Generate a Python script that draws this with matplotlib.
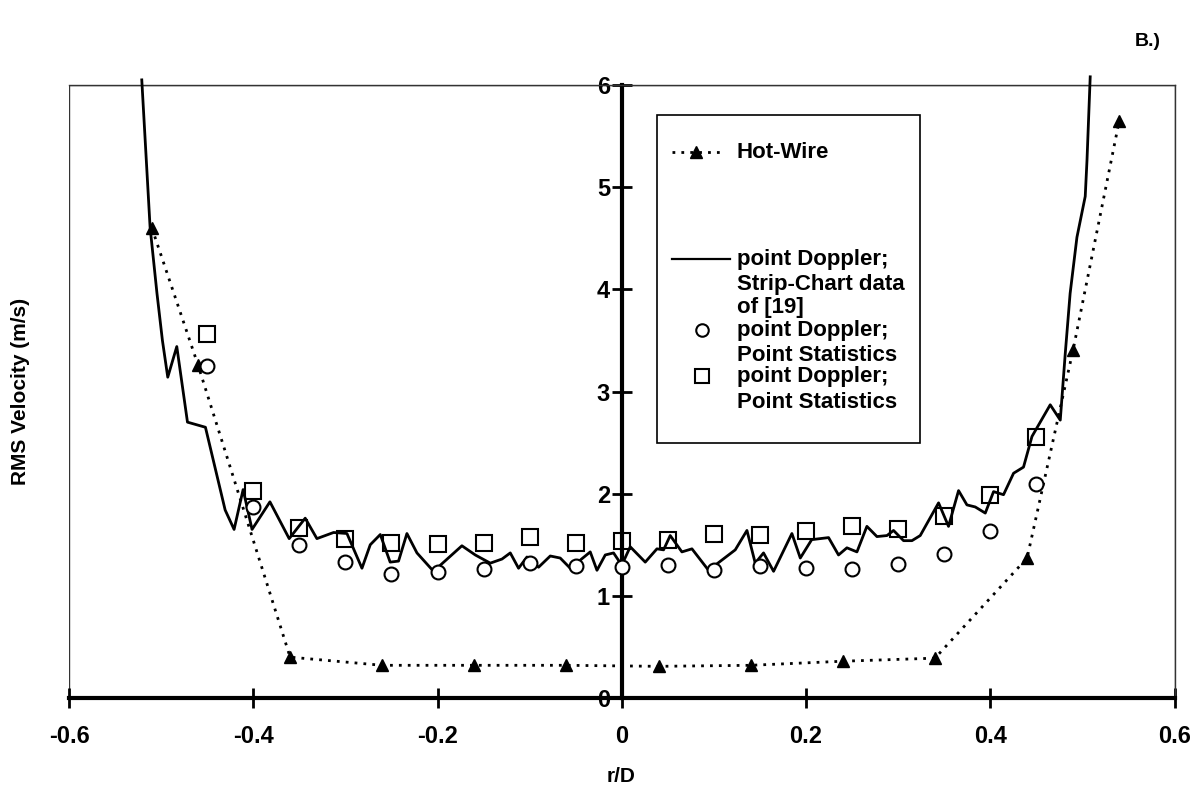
import matplotlib
matplotlib.use("Agg")
import matplotlib.pyplot as plt
from matplotlib.patches import Rectangle
from matplotlib.lines import Line2D

plt.rcParams['font.family'] = ['Liberation Sans', 'DejaVu Sans']
plt.rcParams['font.weight'] = 'bold'

# ---- data ----
hw_x = [-0.51, -0.46, -0.36, -0.26, -0.16, -0.06, 0.04, 0.14, 0.24, 0.34, 0.44, 0.49, 0.54]
hw_y = [4.60, 3.26, 0.40, 0.32, 0.32, 0.32, 0.31, 0.32, 0.36, 0.39, 1.37, 3.41, 5.65]

pt_x = [-0.45, -0.40, -0.35, -0.30, -0.25, -0.20, -0.15, -0.10, -0.05, 0.00,
        0.05, 0.10, 0.15, 0.20, 0.25, 0.30, 0.35, 0.40, 0.45]
circ_y = [3.25, 1.87, 1.50, 1.33, 1.21, 1.23, 1.26, 1.32, 1.29, 1.28,
          1.30, 1.25, 1.29, 1.27, 1.26, 1.31, 1.41, 1.63, 2.09]
sq_y = [3.56, 2.03, 1.66, 1.56, 1.52, 1.51, 1.52, 1.58, 1.52, 1.54,
        1.55, 1.61, 1.60, 1.63, 1.68, 1.65, 1.78, 1.99, 2.55]

strip_x = [-0.521, -0.512, -0.5045, -0.4986, -0.4928, -0.483, -0.4714, -0.4519, -0.4305, -0.4208,
           -0.411, -0.4013, -0.3819, -0.361, -0.3436, -0.3309, -0.3128, -0.2983, -0.282, -0.273,
           -0.2621, -0.2514, -0.2423, -0.2332, -0.2223, -0.2043, -0.1735, -0.159, -0.1427, -0.130,
           -0.121, -0.112, -0.1029, -0.0903, -0.0776, -0.0668, -0.0559, -0.045, -0.0342, -0.0269,
           -0.0179, -0.0089, 0.0, 0.0092, 0.0255, 0.0382, 0.0454, 0.0526, 0.0653, 0.0762,
           0.0942, 0.1232, 0.1359, 0.1449, 0.1539, 0.1648, 0.1847, 0.1938, 0.2062, 0.2245,
           0.2353, 0.2444, 0.2553, 0.2661, 0.277, 0.2879, 0.295, 0.3059, 0.315, 0.324,
           0.3439, 0.3547, 0.3656, 0.3747, 0.3837, 0.3946, 0.4036, 0.4144, 0.4253, 0.4361,
           0.4453, 0.4651, 0.476, 0.4814, 0.4867, 0.4941, 0.5031, 0.505, 0.5085]
strip_y = [6.05, 4.61, 3.96, 3.50, 3.14, 3.44, 2.70, 2.65, 1.84, 1.65,
           2.04, 1.65, 1.92, 1.56, 1.76, 1.56, 1.62, 1.61, 1.27, 1.50,
           1.60, 1.33, 1.34, 1.61, 1.42, 1.24, 1.49, 1.40, 1.32, 1.36,
           1.42, 1.27, 1.38, 1.28, 1.39, 1.37, 1.27, 1.35, 1.43, 1.25,
           1.40, 1.42, 1.30, 1.48, 1.33, 1.46, 1.45, 1.59, 1.43, 1.46,
           1.25, 1.45, 1.64, 1.32, 1.42, 1.24, 1.61, 1.37, 1.55, 1.57,
           1.40, 1.47, 1.43, 1.68, 1.58, 1.59, 1.64, 1.54, 1.54, 1.59,
           1.91, 1.68, 2.03, 1.89, 1.87, 1.81, 2.02, 1.99, 2.20, 2.26,
           2.56, 2.87, 2.72, 3.37, 3.96, 4.51, 4.91, 5.26, 6.08]

x_ticks = [-0.6, -0.4, -0.2, 0, 0.2, 0.4, 0.6]
x_ticklabels = ['-0.6', '-0.4', '-0.2', '0', '0.2', '0.4', '0.6']
y_ticks = [0, 1, 2, 3, 4, 5, 6]

# ---- figure ----
fig = plt.figure(figsize=(11.94, 7.88), dpi=100)
ax = fig.add_axes([69/1194, 1-698/788, (1174.5-69)/1194, (698-85)/788])
ax.set_xlim(-0.6, 0.6)
ax.set_ylim(0, 6)

# thin frame
for s in ['top', 'right']:
    ax.spines[s].set_linewidth(1.0)
    ax.spines[s].set_color('#333333')
ax.add_patch(Rectangle((0, 0), 1, 1, transform=ax.transAxes, fill=False,
                       lw=1.0, edgecolor='#333333', zorder=0))
ax.spines['left'].set_position(('data', 0))
ax.spines['left'].set_linewidth(3)
ax.spines['bottom'].set_linewidth(3)
ax.spines['left'].set_zorder(1)

ax.set_xticks(x_ticks)
ax.set_xticklabels(x_ticklabels)
ax.set_yticks(y_ticks)
ax.tick_params(axis='both', direction='inout', length=15, width=2, labelsize=17)
ax.tick_params(axis='x', pad=12)
ax.tick_params(axis='y', pad=1)
for lab in ax.get_xticklabels() + ax.get_yticklabels():
    lab.set_fontweight('bold')

fig.text(621/1194, 1-776/788, 'r/D', fontsize=15, fontweight='bold', ha='center', va='center')
fig.text(21/1194, 1-391/788, 'RMS Velocity (m/s)', rotation=90, fontsize=15,
         fontweight='bold', ha='center', va='center')

# data
ax.plot(strip_x, strip_y, color='black', lw=2, zorder=3, clip_on=False)
ax.plot(hw_x, hw_y, color='black', lw=2, linestyle=(0, (1, 2.2)), marker='^',
        markersize=8, markerfacecolor='black', zorder=4)
ax.plot(pt_x, circ_y, linestyle='none', marker='o', markersize=10,
        markerfacecolor='white', markeredgecolor='black', markeredgewidth=1.5, zorder=5)
ax.plot(pt_x, sq_y, linestyle='none', marker='s', markersize=12,
        markerfacecolor='none', markeredgecolor='black', markeredgewidth=1.5, zorder=5)

# legend (manual, axes coordinates)
T = ax.transAxes
def fx(px):
    return (px - 69) / 1105.5
def fy(py):
    return (698 - py) / 613.0

LFS = 16
ax.add_patch(Rectangle((fx(657), fy(443)), fx(920) - fx(657), fy(115) - fy(443),
                       transform=T, facecolor='white', edgecolor='black', lw=1.2, zorder=6))
ax.add_line(Line2D([fx(672), fx(720)], [fy(152), fy(152)], transform=T, color='black', lw=2,
                   linestyle=(0, (1, 2.2)), zorder=7))
ax.add_line(Line2D([fx(696)], [fy(152)], transform=T, marker='^', markersize=8,
                   color='black', zorder=7))
ax.text(fx(737), fy(152), 'Hot-Wire', transform=T, fontsize=LFS, fontweight='bold',
        va='center', ha='left', zorder=7)
ax.add_line(Line2D([fx(672), fx(730)], [fy(259), fy(259)], transform=T, color='black', lw=1.6,
                   zorder=7))
ax.text(fx(737), fy(259), 'point Doppler;', transform=T, fontsize=LFS, fontweight='bold',
        va='center', ha='left', zorder=7)
ax.text(fx(737), fy(284), 'Strip-Chart data', transform=T, fontsize=LFS, fontweight='bold',
        va='center', ha='left', zorder=7)
ax.text(fx(737), fy(308), 'of [19]', transform=T, fontsize=LFS, fontweight='bold',
        va='center', ha='left', zorder=7)
ax.add_line(Line2D([fx(702)], [fy(330)], transform=T, marker='o', markersize=9,
                   markerfacecolor='white', markeredgecolor='black', markeredgewidth=1.5, zorder=7))
ax.text(fx(737), fy(330), 'point Doppler;', transform=T, fontsize=LFS, fontweight='bold',
        va='center', ha='left', zorder=7)
ax.text(fx(737), fy(355), 'Point Statistics', transform=T, fontsize=LFS, fontweight='bold',
        va='center', ha='left', zorder=7)
ax.add_line(Line2D([fx(702)], [fy(376)], transform=T, marker='s', markersize=10,
                   markerfacecolor='white', markeredgecolor='black', markeredgewidth=1.5, zorder=7))
ax.text(fx(737), fy(376), 'point Doppler;', transform=T, fontsize=LFS, fontweight='bold',
        va='center', ha='left', zorder=7)
ax.text(fx(737), fy(402), 'Point Statistics', transform=T, fontsize=LFS, fontweight='bold',
        va='center', ha='left', zorder=7)

fig.text(1148/1194, 1-42/788, 'B.)', fontsize=14, fontweight='bold', ha='center', va='center')

fig.savefig('out.png', dpi=100, facecolor='white')
